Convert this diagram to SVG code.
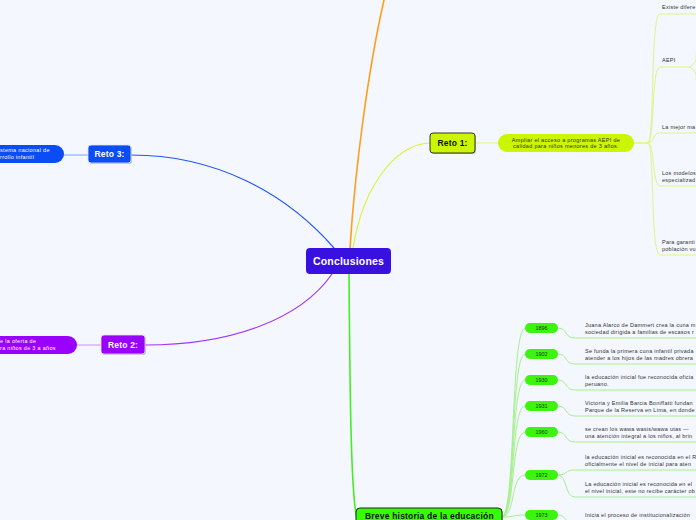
<svg xmlns="http://www.w3.org/2000/svg" width="696" height="520" viewBox="0 0 696 520">
<style>
.bg{fill:#f4f7fd}
.c{fill:none;stroke-linecap:round}
.t{font-family:"Liberation Sans",Arial,sans-serif;font-size:5.5px;letter-spacing:0.25px;fill:#333}
.tw{font-family:"Liberation Sans",Arial,sans-serif;font-size:5.5px;letter-spacing:0.3px;fill:#fff}
.b{font-family:"Liberation Sans",Arial,sans-serif;font-weight:bold;font-size:8.5px;letter-spacing:0.2px}
.yr{font-family:"Liberation Sans",Arial,sans-serif;font-size:5.5px;fill:#1a3a00;text-anchor:middle}
.yp{fill:#3cf40e}
.gs{stroke:#a6f08e;stroke-width:1}
.ys{stroke:#dcf58a;stroke-width:1}
</style>
<rect class="bg" x="0" y="0" width="696" height="520"/>
<g id="connectors">
<path class="c" d="M350,248 C355,170 368,70 384,0" stroke="#ff9d1c" stroke-width="1.6"/>
<path class="c" d="M353,248 C364,180 400,143 430,143" stroke="#d8f53a" stroke-width="1.2"/>
<path class="c" d="M334,248 C285,192 215,155 131,155" stroke="#1f55ff" stroke-width="1.2"/>
<path class="c" d="M332,274 C300,320 230,345 145,345" stroke="#a035ff" stroke-width="1.2"/>
<path class="c" d="M349,274 C350,400 351,495 357,519" stroke="#44ee22" stroke-width="1.6"/>
<path class="c" d="M88,155 L64,155" stroke="#7fa0ff" stroke-width="1"/>
<path class="c" d="M101,345 L77,345" stroke="#c790ff" stroke-width="1"/>
<path class="c" d="M475,143 L498,143" stroke="#dcf58a" stroke-width="1"/>
<path class="c" d="M634,143 L648,143" stroke="#d8f53a" stroke-width="1"/>
<g class="ys">
<path class="c" d="M648,143 C655,143 650,14 660,14 L696,14"/>
<path class="c" d="M648,143 C655,143 651,67 660,67 L690,67"/>
<path class="c" d="M690,67 C700,60 694,56 697,52"/>
<path class="c" d="M690,67 C700,74 694,78 697,82"/>
<path class="c" d="M648,143 C655,143 652,133 660,133 L696,133"/>
<path class="c" d="M648,143 C655,143 652,186 660,186 L696,186"/>
<path class="c" d="M648,143 C655,143 650,255 660,255 L696,255"/>
</g>
<g class="gs">
<path class="c" d="M502,517 C516,517 510,328 525,328"/>
<path class="c" d="M502,517 C516,517 510,354 525,354"/>
<path class="c" d="M502,517 C516,517 510,380 525,380"/>
<path class="c" d="M502,517 C516,517 510,406 525,406"/>
<path class="c" d="M502,517 C516,517 510,432 525,432"/>
<path class="c" d="M502,517 C516,517 510,475 525,475"/>
<path class="c" d="M502,517 C516,517 512,515 525,515"/>
<path class="c" d="M558,328 C568,328 564,338 575,338 L696,338"/>
<path class="c" d="M558,354 C568,354 564,364 575,364 L696,364"/>
<path class="c" d="M558,380 C568,380 564,390 575,390 L696,390"/>
<path class="c" d="M558,406 C568,406 564,416 575,416 L696,416"/>
<path class="c" d="M558,432 C568,432 564,442 575,442 L696,442"/>
<path class="c" d="M558,475 C568,475 564,470 575,470 L696,470"/>
<path class="c" d="M558,475 C568,475 564,497 575,497 L696,497"/>
<path class="c" d="M558,515 C568,515 564,525 575,525 L696,525"/>
</g>
</g>
<g id="conclusiones">
<rect x="306" y="248" width="85" height="26" rx="4" fill="#3811e0"/>
<text class="b" x="348.5" y="265" fill="#fff" text-anchor="middle" style="font-size:10.5px">Conclusiones</text>
</g>
<g id="reto1">
<rect x="431" y="134" width="45" height="20" rx="3" fill="#888" opacity="0.5"/>
<rect x="430" y="133" width="45" height="20" rx="3" fill="#ccf500" stroke="#333" stroke-width="1"/>
<text class="b" x="452.5" y="146" fill="#111" text-anchor="middle">Reto 1:</text>
</g>
<g id="reto1-objetivo">
<rect x="498" y="134" width="136" height="18" rx="9" fill="#ccf500"/>
<text class="t" x="566" y="141.5" text-anchor="middle" style="letter-spacing:0.3px">Ampliar el acceso a programas AEPI de</text>
<text class="t" x="566" y="148" text-anchor="middle" style="letter-spacing:0.3px">calidad para niños menores de 3 años.</text>
</g>
<g id="reto1-items">
<text class="t" x="662" y="9">Existe difere</text>
<text class="t" x="662" y="62">AEPI</text>
<text class="t" x="662" y="129">La mejor ma</text>
<text class="t" x="662" y="175">Los modelos</text>
<text class="t" x="662" y="181.5">especializad</text>
<text class="t" x="662" y="244">Para garanti</text>
<text class="t" x="662" y="250.5">población vu</text>
</g>
<g id="reto3">
<rect x="89" y="146" width="43" height="18" rx="3" fill="#888" opacity="0.5"/>
<rect x="88" y="145" width="43" height="18" rx="3" fill="#0a4cf5" stroke="#dfe6ff" stroke-width="0.8"/>
<text class="b" x="109.5" y="157" fill="#fff" text-anchor="middle">Reto 3:</text>
</g>
<g id="reto3-objetivo">
<rect x="-40" y="145" width="104" height="18" rx="9" fill="#0a4cf5"/>
<text class="tw" x="0" y="152">stema nacional de</text>
<text class="tw" x="0" y="158.5">rrollo infantil</text>
</g>
<g id="reto2">
<rect x="102" y="336" width="44" height="19" rx="3" fill="#888" opacity="0.5"/>
<rect x="101" y="335" width="44" height="19" rx="3" fill="#9900ff" stroke="#eadcff" stroke-width="0.8"/>
<text class="b" x="123" y="347.5" fill="#fff" text-anchor="middle">Reto 2:</text>
</g>
<g id="reto2-objetivo">
<rect x="-40" y="336" width="117" height="18" rx="9" fill="#9900ff"/>
<text class="tw" x="0" y="343">e la oferta de</text>
<text class="tw" x="0" y="349.5">ra niños de 3 a años</text>
</g>
<g id="breve-historia">
<rect x="357" y="509" width="146" height="24" rx="4" fill="#888" opacity="0.5"/>
<rect x="356" y="508" width="146" height="24" rx="4" fill="#33ff00" stroke="#222" stroke-width="1"/>
<text class="b" x="365" y="519" fill="#111">Breve historia de la educación</text>
</g>
<g id="y1896">
<rect class="yp" x="525" y="323" width="33" height="10" rx="5"/>
<text class="yr" x="541.5" y="330">1896</text>
<text class="t" x="585" y="327">Juana Alarco de Dammert crea la cuna m</text>
<text class="t" x="585" y="333.5">sociedad dirigida a familias de escasos r</text>
</g>
<g id="y1902">
<rect class="yp" x="525" y="349" width="33" height="10" rx="5"/>
<text class="yr" x="541.5" y="356">1902</text>
<text class="t" x="585" y="353">Se funda la primera cuna infantil privada</text>
<text class="t" x="585" y="359.5">atender a los hijos de las madres obrera</text>
</g>
<g id="y1930">
<rect class="yp" x="525" y="375" width="33" height="10" rx="5"/>
<text class="yr" x="541.5" y="382">1930</text>
<text class="t" x="585" y="379">la educación inicial fue reconocida oficia</text>
<text class="t" x="585" y="385.5">peruano.</text>
</g>
<g id="y1931">
<rect class="yp" x="525" y="401" width="33" height="10" rx="5"/>
<text class="yr" x="541.5" y="408">1931</text>
<text class="t" x="585" y="405">Victoria y Emilia Barcia Boniffatti fundan</text>
<text class="t" x="585" y="411.5">Parque de la Reserva en Lima, en donde</text>
</g>
<g id="y1960">
<rect class="yp" x="525" y="427" width="33" height="10" rx="5"/>
<text class="yr" x="541.5" y="434">1960</text>
<text class="t" x="585" y="431">se crean los wawa  wasis/wawa  utas —</text>
<text class="t" x="585" y="437.5">una atención integral a los niños, al brin</text>
</g>
<g id="y1972">
<rect class="yp" x="525" y="470" width="33" height="10" rx="5"/>
<text class="yr" x="541.5" y="477">1972</text>
<text class="t" x="585" y="459">la educación inicial es reconocida en el R</text>
<text class="t" x="585" y="465.5">oficialmente el nivel de inicial para aten</text>
<text class="t" x="585" y="486">La educación inicial es reconocida en el</text>
<text class="t" x="585" y="492.5">el nivel inicial, este no recibe carácter ob</text>
</g>
<g id="y1973">
<rect class="yp" x="525" y="510" width="33" height="10" rx="5"/>
<text class="yr" x="541.5" y="517">1973</text>
<text class="t" x="585" y="517">Inicia el proceso de institucionalización</text>
</g>
</svg>
